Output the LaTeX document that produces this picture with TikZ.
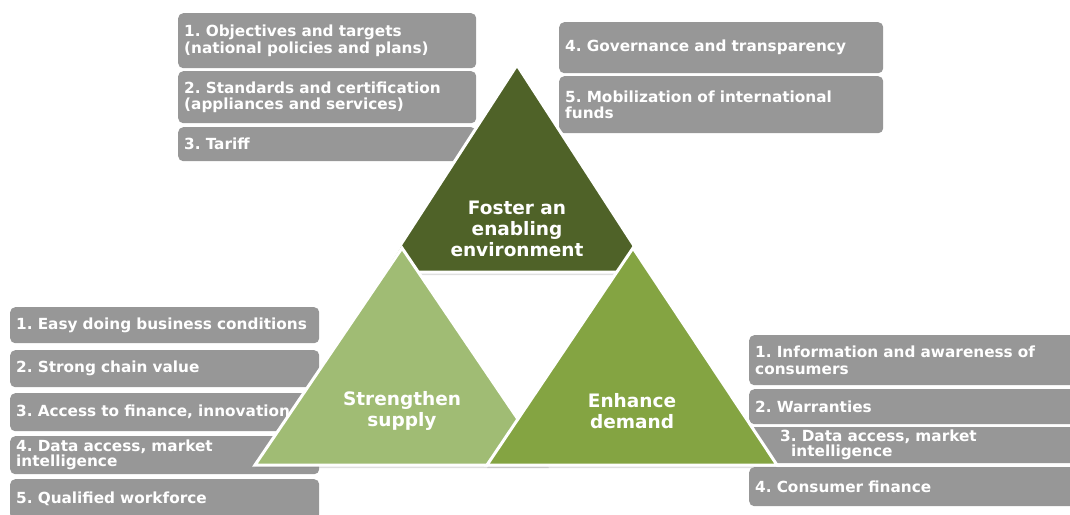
\documentclass[tikz,border=0pt]{standalone}
\usepackage{fontspec}
\setmainfont{DejaVu Sans}
\usetikzlibrary{shadows}
\definecolor{boxgray}{RGB}{151,151,151}
\definecolor{darkolive}{RGB}{79,98,40}
\definecolor{midolive}{RGB}{132,164,66}
\definecolor{lightolive}{RGB}{160,188,116}
\frenchspacing

\begin{document}
\begin{tikzpicture}[x=1pt,y=-1pt,
gbox/.style={fill=boxgray, rounded corners=5pt, text=white, font=\fontsize{15.3}{16.5}\selectfont\bfseries, align=left, anchor=north west, inner xsep=6pt, inner ysep=0pt},
tri/.style={draw=white, line width=3pt, drop shadow={opacity=0.25,shadow xshift=0pt,shadow yshift=-3pt}},
tlabel/.style={text=white, font=\fontsize{18.5}{21}\selectfont\bfseries, align=center}]
\clip (0,0) rectangle (1070,514);

% enabling environment
\node[gbox, text width=286pt, minimum height=55pt] (env1) at (178,13) {1. Objectives and targets\\(national policies and plans)};
\node[gbox, text width=286pt, minimum height=52pt] (env2) at (178,71) {2. Standards and certification\\(appliances and services)};
\node[gbox, text width=286pt, minimum height=34pt] (env3) at (178,127) {3. Tariff};
\node[gbox, text width=312pt, minimum height=51pt] (env4) at (559,22) {4. Governance and transparency};
\node[gbox, text width=312pt, minimum height=57pt] (env5) at (559,76) {5. Mobilization of international\\funds};

% supply
\node[gbox, text width=297pt, minimum height=36pt] (sup1) at (10,307) {1. Easy doing business conditions};
\node[gbox, text width=297pt, minimum height=37pt] (sup2) at (10,350) {2. Strong chain value};
\node[gbox, text width=297pt, minimum height=38pt] (sup3) at (10,393) {3. Access to finance, innovation};
\node[gbox, text width=297pt, minimum height=38pt, font=\fontsize{15.3}{15}\selectfont\bfseries] (sup4) at (10,436) {4. Data access, market\\intelligence};
\node[gbox, text width=297pt, minimum height=40pt] (sup5) at (10,479) {5. Qualified workforce};

% demand
\node[gbox, text width=329pt, minimum height=50pt] (dem1) at (749,335) {1. Information and awareness of\\consumers};
\node[gbox, text width=329pt, minimum height=35pt] (dem2) at (749,389) {2. Warranties};
\node[gbox, text width=329pt, minimum height=36pt, font=\fontsize{15.3}{15}\selectfont\bfseries] (dem3) at (749,427) {\hspace*{25pt}3. Data access, market\\\hspace*{36pt}intelligence};
\node[gbox, text width=329pt, minimum height=39pt] (dem4) at (749,467) {4. Consumer finance};

% triangles
\path[tri, fill=darkolive] (517,65) -- (651,272) -- (383,272) -- cycle;
\node[tlabel] (foster) at (517,229) {Foster an\\enabling\\environment};
\path[tri, fill=lightolive] (402,248) -- (549,465) -- (255,465) -- cycle;
\node[tlabel] (supply) at (402,411) {Strengthen\\supply};
\path[tri, fill=midolive] (633,248) -- (777,465) -- (487,465) -- cycle;
\node[tlabel] (demand) at (632,411) {Enhance\\demand};
\end{tikzpicture}
\end{document}
